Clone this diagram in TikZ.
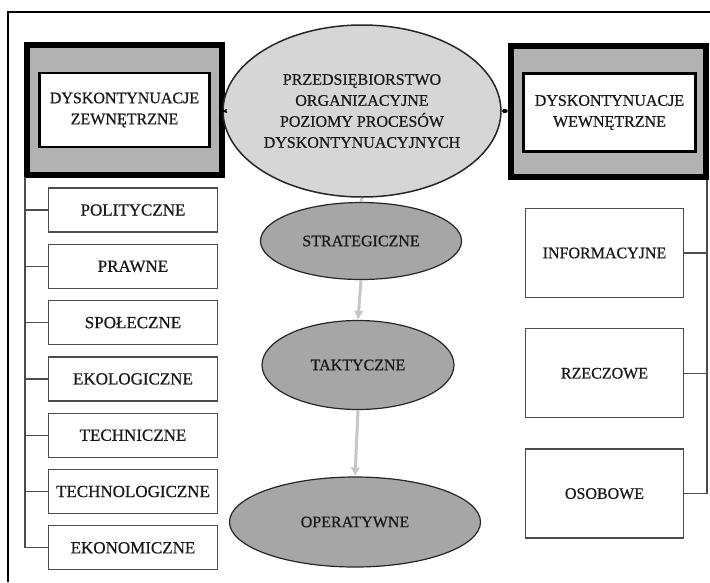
\documentclass[tikz,border=0pt]{standalone}
\usepackage{fontspec}
\setmainfont{Liberation Serif}[BoldFont={Liberation Serif},BoldFeatures={FakeBold=0.6}]
\usetikzlibrary{arrows,arrows.meta,positioning,shapes}
\tikzstyle{outerbox}=[rectangle,line width=6pt,draw=black,fill=black!30,minimum width=195pt,minimum height=130pt]
\tikzstyle{innerbox}=[rectangle,line width=2.5pt,draw=black,fill=white,
minimum width=170pt,minimum height=74pt,align=center,text=black!90]
\tikzstyle{factor}=[rectangle,line width=1.3pt,draw=black!70,fill=white,
minimum width=169pt,minimum height=44pt,text=black!90,font=\fontsize{17}{21}\selectfont\bfseries]
\tikzstyle{ifactor}=[rectangle,line width=1.3pt,draw=black!70,fill=white,
minimum width=158pt,minimum height=89pt,text=black!90]
\tikzstyle{level}=[ellipse,line width=1.2pt,draw=black!85,fill=black!35,inner sep=0pt,text=black!90]
\tikzstyle{branch}=[line width=1.3pt,draw=black!70]
\tikzstyle{flow}=[line width=3pt,draw=black!22]

\begin{document}
\begin{tikzpicture}[x=1pt,y=-1pt,node distance=11pt,font=\fontsize{16}{21}\selectfont\bfseries]
		\useasboundingbox (0,0) rectangle (710,582);
		\draw[line width=2.5pt] (8,582) -- (8,12) -- (710,12);

		% grupy dyskontynuacji
		\node[outerbox] (zewb) at (124.5,109.5) {};
		\node[innerbox] (zew) at (124.5,110) {DYSKONTYNUACJE\\ZEWNĘTRZNE};
		\node[outerbox,minimum height=131pt] (wewb) at (608.5,111.5) {};
		\node[innerbox,minimum width=172pt,minimum height=78pt] (wew) at (609.5,112.5) {DYSKONTYNUACJE\\WEWNĘTRZNE};

		% poziomy
		\node[level,fill=black!16,line width=1.5pt,minimum width=238pt,minimum height=172pt,align=center] (przed) at (362,111)
			{PRZEDSIĘBIORSTWO\\ORGANIZACYJNE\\POZIOMY PROCESÓW\\DYSKONTYNUACYJNYCH};
		\node[level,minimum width=201pt,minimum height=77pt] (strat) at (361,241) {STRATEGICZNE};
		\node[level,minimum width=192pt,minimum height=89pt] (takt) at (358,365) {TAKTYCZNE};
		\node[level,minimum width=251pt,minimum height=90pt] (oper) at (355,522) {OPERATYWNE};

		% zewnetrzne
		\node[factor] (pol) at (133,210) {POLITYCZNE};
		\node[factor,below=of pol] (praw) {PRAWNE};
		\node[factor,below=of praw] (spol) {SPOŁECZNE};
		\node[factor,below=of spol] (ekol) {EKOLOGICZNE};
		\node[factor,below=of ekol] (tech) {TECHNICZNE};
		\node[factor,below=of tech] (techn) {TECHNOLOGICZNE};
		\node[factor,below=of techn] (ekon) {EKONOMICZNE};

		% wewnetrzne
		\node[ifactor] (inf) at (604.5,253) {INFORMACYJNE};
		\node[ifactor,below=30pt of inf] (rzecz) {RZECZOWE};
		\node[ifactor,below=30pt of rzecz] (osob) {OSOBOWE};

		\coordinate (ltop) at (25,177);
		\coordinate (rtop) at (707,180);

		\draw[branch] (ltop) -- (ltop |- ekon.west);
		\draw[branch] (ltop |- pol.west) -- (pol.west);
		\draw[branch] (ltop |- praw.west) -- (praw.west);
		\draw[branch] (ltop |- spol.west) -- (spol.west);
		\draw[branch] (ltop |- ekol.west) -- (ekol.west);
		\draw[branch] (ltop |- tech.west) -- (tech.west);
		\draw[branch] (ltop |- techn.west) -- (techn.west);
		\draw[branch] (ltop |- ekon.west) -- (ekon.west);

		\draw[branch] (rtop) -- (rtop |- osob.east);
		\draw[branch] (inf.east) -- (rtop |- inf.east);
		\draw[branch] (rzecz.east) -- (rtop |- rzecz.east);
		\draw[branch] (osob.east) -- (rtop |- osob.east);

		\draw[<->,>=stealth',line width=0.8pt] (zewb.east |- przed.west) -- (przed.west);
		\draw[<->,>=stealth',line width=0.8pt] (przed.east) -- (wewb.west |- przed.east);

		\draw[flow] (przed.south) -- (strat.north);
		\draw[flow,-{Latex[length=9pt,width=10pt]}] (strat.south) -- (takt.north);
		\draw[flow,-{Latex[length=9pt,width=10pt]}] (takt.south) -- (oper.north);

	\end{tikzpicture}
\end{document}
